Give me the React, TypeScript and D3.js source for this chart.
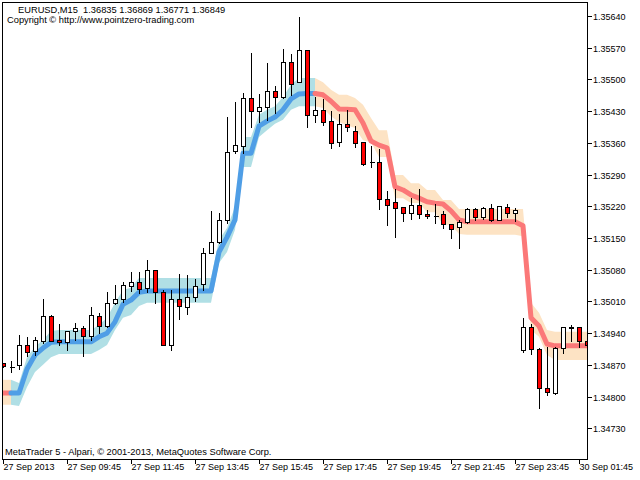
import React, { useRef, useEffect } from 'react';
import * as d3 from 'd3';

// x axis labels, one every 8 bars (2 hours of M15)
const timeLabels = [
  '27 Sep 2013', '27 Sep 09:45', '27 Sep 11:45', '27 Sep 13:45', '27 Sep 15:45',
  '27 Sep 17:45', '27 Sep 19:45', '27 Sep 21:45', '27 Sep 23:45', '30 Sep 01:45',
];

const priceTicks = [
  1.3564, 1.3557, 1.355, 1.3543, 1.3536, 1.3529, 1.3522,
  1.3515, 1.3508, 1.3501, 1.3494, 1.3487, 1.348, 1.3473,
];

const opens = [
  1.34874, 1.34866, 1.34869, 1.34913, 1.34901, 1.34922, 1.34977, 1.34924, 1.34920, 1.34944,
  1.34951, 1.34933, 1.34977, 1.34955, 1.35006, 1.35015, 1.35043, 1.35052, 1.35039, 1.35079,
  1.35030, 1.34913, 1.35015, 1.34997, 1.35019, 1.35048, 1.35116, 1.35141, 1.35189, 1.35341,
  1.35352, 1.35458, 1.35430, 1.35440, 1.35474, 1.35461, 1.35539, 1.35495, 1.35564, 1.35421,
  1.35433, 1.35408, 1.35363, 1.35401, 1.35386, 1.35361, 1.35318, 1.35318, 1.35235, 1.35229,
  1.35218, 1.35205, 1.35222, 1.35202, 1.35199, 1.35202, 1.35180, 1.35174, 1.35185, 1.35213,
  1.35196, 1.35216, 1.35189, 1.35218, 1.35205, 1.34903, 1.34953, 1.34904, 1.34818, 1.34807,
  1.34907, 1.34952, 1.34953, 1.34922,
];
const highs = [
  1.34876, 1.34881, 1.34938, 1.34934, 1.34934, 1.35017, 1.34982, 1.34962, 1.34944, 1.34965,
  1.34957, 1.35000, 1.34986, 1.35034, 1.35048, 1.35055, 1.35077, 1.35077, 1.35104, 1.35079,
  1.35038, 1.35037, 1.35072, 1.35070, 1.35061, 1.35130, 1.35212, 1.35207, 1.35419, 1.35453,
  1.35473, 1.35560, 1.35469, 1.35539, 1.35487, 1.35569, 1.35559, 1.35640, 1.35567, 1.35463,
  1.35458, 1.35433, 1.35425, 1.35435, 1.35399, 1.35361, 1.35355, 1.35348, 1.35257, 1.35260,
  1.35221, 1.35240, 1.35260, 1.35213, 1.35227, 1.35211, 1.35180, 1.35191, 1.35218, 1.35218,
  1.35220, 1.35227, 1.35222, 1.35227, 1.35218, 1.34975, 1.34963, 1.34909, 1.34912, 1.34912,
  1.34953, 1.34960, 1.34953, 1.34949,
];
const lows = [
  1.34865, 1.34855, 1.34860, 1.34890, 1.34892, 1.34919, 1.34923, 1.34913, 1.34902, 1.34924,
  1.34890, 1.34924, 1.34940, 1.34953, 1.35004, 1.35009, 1.35032, 1.35028, 1.35030, 1.35007,
  1.34913, 1.34902, 1.34971, 1.34982, 1.35010, 1.35035, 1.35116, 1.35138, 1.35183, 1.35337,
  1.35337, 1.35396, 1.35407, 1.35410, 1.35427, 1.35458, 1.35466, 1.35495, 1.35394, 1.35407,
  1.35399, 1.35348, 1.35353, 1.35387, 1.35350, 1.35311, 1.35307, 1.35214, 1.35178, 1.35153,
  1.35188, 1.35191, 1.35194, 1.35194, 1.35183, 1.35171, 1.35151, 1.35129, 1.35183, 1.35189,
  1.35191, 1.35187, 1.35189, 1.35196, 1.35187, 1.34899, 1.34894, 1.34774, 1.34804, 1.34806,
  1.34897, 1.34923, 1.34909, 1.34888,
];
const closes = [
  1.34868, 1.34866, 1.34913, 1.34899, 1.34924, 1.34977, 1.34923, 1.34920, 1.34944, 1.34951,
  1.34933, 1.34979, 1.34955, 1.35006, 1.35015, 1.35046, 1.35052, 1.35037, 1.35079, 1.35030,
  1.34913, 1.35015, 1.35001, 1.35019, 1.35043, 1.35116, 1.35141, 1.35189, 1.35339, 1.35355,
  1.35458, 1.35430, 1.35440, 1.35474, 1.35461, 1.35539, 1.35491, 1.35564, 1.35421, 1.35433,
  1.35405, 1.35360, 1.35401, 1.35394, 1.35360, 1.35313, 1.35318, 1.35235, 1.35222, 1.35216,
  1.35205, 1.35222, 1.35202, 1.35198, 1.35199, 1.35180, 1.35169, 1.35185, 1.35213, 1.35196,
  1.35216, 1.35189, 1.35220, 1.35205, 1.35211, 1.34953, 1.34904, 1.34818, 1.34810, 1.34907,
  1.34953, 1.34953, 1.34922, 1.34913,
];

// indicator line and its band
const lineValues = [
  1.34808, 1.34808, 1.34808, 1.34861, 1.34892, 1.34907, 1.34920, 1.34921, 1.34921, 1.34921,
  1.34921, 1.34921, 1.34932, 1.34940, 1.34965, 1.35004, 1.35013, 1.35030, 1.35033, 1.35033,
  1.35033, 1.35033, 1.35033, 1.35033, 1.35033, 1.35033, 1.35033, 1.35119, 1.35152, 1.35190,
  1.35337, 1.35337, 1.35397, 1.35408, 1.35417, 1.35433, 1.35457, 1.35468, 1.35469, 1.35469,
  1.35466, 1.35452, 1.35435, 1.35434, 1.35433, 1.35404, 1.35364, 1.35355, 1.35349, 1.35263,
  1.35256, 1.35245, 1.35238, 1.35230, 1.35227, 1.35225, 1.35210, 1.35190, 1.35186, 1.35186,
  1.35186, 1.35186, 1.35186, 1.35186, 1.35186, 1.35177, 1.34974, 1.34956, 1.34916, 1.34912,
  1.34912, 1.34912, 1.34912, 1.34912,
];
const bandUpper = [
  1.34837, 1.34837, 1.34830, 1.34887, 1.34910, 1.34925, 1.34945, 1.34947, 1.34947, 1.34947,
  1.34947, 1.34947, 1.34958, 1.34974, 1.35007, 1.35035, 1.35040, 1.35062, 1.35062, 1.35062,
  1.35062, 1.35062, 1.35062, 1.35062, 1.35062, 1.35062, 1.35062, 1.35146, 1.35172, 1.35219,
  1.35373, 1.35373, 1.35422, 1.35433, 1.35441, 1.35461, 1.35488, 1.35503, 1.35503, 1.35503,
  1.35494, 1.35477, 1.35466, 1.35466, 1.35459, 1.35444, 1.35415, 1.35388, 1.35388, 1.35289,
  1.35289, 1.35271, 1.35271, 1.35256, 1.35256, 1.35234, 1.35234, 1.35214, 1.35214, 1.35214,
  1.35214, 1.35214, 1.35214, 1.35214, 1.35214, 1.35214, 1.35007, 1.34985, 1.34947, 1.34943,
  1.34943, 1.34943, 1.34943, 1.34943,
];
const bandLower = [
  1.34782, 1.34782, 1.34779, 1.34821, 1.34854, 1.34870, 1.34887, 1.34894, 1.34894, 1.34894,
  1.34894, 1.34894, 1.34903, 1.34914, 1.34947, 1.34974, 1.34980, 1.35000, 1.35007, 1.35007,
  1.35007, 1.35007, 1.35007, 1.35007, 1.35007, 1.35007, 1.35007, 1.35095, 1.35119, 1.35168,
  1.35307, 1.35307, 1.35373, 1.35388, 1.35402, 1.35411, 1.35433, 1.35441, 1.35441, 1.35441,
  1.35437, 1.35419, 1.35406, 1.35399, 1.35393, 1.35366, 1.35362, 1.35329, 1.35329, 1.35238,
  1.35238, 1.35227, 1.35227, 1.35207, 1.35207, 1.35179, 1.35179, 1.35159, 1.35157, 1.35157,
  1.35157, 1.35157, 1.35157, 1.35157, 1.35157, 1.35154, 1.34947, 1.34932, 1.34892, 1.34881,
  1.34881, 1.34881, 1.34881, 1.34881,
];
// 1 = up (blue), -1 = down (red); the segment ending at bar i takes trend[i]
const trend = [
  -1, -1, 1, 1, 1, 1, 1, 1, 1, 1,
  1, 1, 1, 1, 1, 1, 1, 1, 1, 1,
  1, 1, 1, 1, 1, 1, 1, 1, 1, 1,
  1, 1, 1, 1, 1, 1, 1, 1, 1, 1,
  -1, -1, -1, -1, -1, -1, -1, -1, -1, -1,
  -1, -1, -1, -1, -1, -1, -1, -1, -1, -1,
  -1, -1, -1, -1, -1, -1, -1, -1, -1, -1,
  -1, -1, -1, -1,
];

const FONT = '"Liberation Sans", Arial, sans-serif';

const App: React.FC = () => {
  const svgRef = useRef<SVGSVGElement>(null);

  useEffect(() => {
    if (!svgRef.current) return;
    const svg = d3.select(svgRef.current);
    svg.selectAll('*').remove();

    const plot = { left: 2, top: 2, right: 587, bottom: 459 };
    const n = opens.length;

    const x = d3.scaleLinear().domain([0, n - 1]).range([3, 587]);
    const y = d3.scaleLinear().domain([1.3473, 1.3564]).range([428.3, 16]);
    const py = (v: number) => Math.round(y(v)) + 0.5;

    svg.append('rect').attr('width', 640).attr('height', 480).attr('fill', '#fff');

    svg.append('defs').append('clipPath').attr('id', 'plotClip')
      .append('rect')
      .attr('x', plot.left + 1)
      .attr('y', plot.top + 1)
      .attr('width', plot.right - plot.left - 1)
      .attr('height', plot.bottom - plot.top - 1);

    const g = svg.append('g').attr('clip-path', 'url(#plotClip)');

    // colour runs: [first bar, last bar] of consecutive segments with same trend
    const runs: [number, number][] = [];
    let start = 0;
    for (let i = 1; i < n; i++) {
      if (i === n - 1 || trend[i + 1] !== trend[i]) {
        runs.push([start, i]);
        start = i;
      }
    }

    // band
    const area = d3.area<number>()
      .x(i => x(i))
      .y0(i => y(bandLower[i]))
      .y1(i => y(bandUpper[i]));
    runs.forEach(([a, b]) => {
      g.append('path')
        .attr('d', area(d3.range(a, b + 1)))
        .attr('fill', trend[b] > 0 ? '#b0dfe5' : '#fde3c4');
    });

    // indicator line
    const line = d3.line<number>().x(i => x(i)).y(i => y(lineValues[i]));
    runs.forEach(([a, b]) => {
      g.append('path')
        .attr('d', line(d3.range(a, b + 1)))
        .attr('fill', 'none')
        .attr('stroke', trend[b] > 0 ? '#4f9ee6' : '#fb7878')
        .attr('stroke-width', 5)
        .attr('stroke-linejoin', 'round')
        .attr('stroke-linecap', 'round');
    });

    // candles
    d3.range(n).forEach(i => {
      const cx = x(i) + 0.5;
      const o = opens[i];
      const c = closes[i];
      g.append('line')
        .attr('x1', cx).attr('x2', cx)
        .attr('y1', py(highs[i])).attr('y2', py(lows[i]))
        .attr('stroke', '#000')
        .attr('shape-rendering', 'crispEdges');
      const top = py(Math.max(o, c));
      const bot = py(Math.min(o, c));
      if (bot - top < 1) {
        g.append('line')
          .attr('x1', cx - 2).attr('x2', cx + 3)
          .attr('y1', top).attr('y2', top)
          .attr('stroke', '#000')
          .attr('shape-rendering', 'crispEdges');
      } else {
        g.append('rect')
          .attr('x', cx - 2)
          .attr('y', top)
          .attr('width', 4)
          .attr('height', bot - top)
          .attr('fill', c < o ? '#ff0000' : '#ffffff')
          .attr('stroke', '#000')
          .attr('shape-rendering', 'crispEdges');
      }
    });

    // frame
    svg.append('rect')
      .attr('x', plot.left + 0.5).attr('y', plot.top + 0.5)
      .attr('width', plot.right - plot.left).attr('height', plot.bottom - plot.top)
      .attr('fill', 'none').attr('stroke', '#000')
      .attr('shape-rendering', 'crispEdges');

    // price axis
    priceTicks.forEach(p => {
      const ty = py(p);
      svg.append('line')
        .attr('x1', plot.right + 0.5).attr('x2', plot.right + 4.5)
        .attr('y1', ty).attr('y2', ty)
        .attr('stroke', '#000').attr('shape-rendering', 'crispEdges');
      svg.append('text')
        .attr('x', plot.right + 6)
        .attr('y', ty + 3.5)
        .attr('font-family', FONT)
        .attr('font-size', 9)
        .text(p.toFixed(5));
    });

    // time axis
    timeLabels.forEach((label, k) => {
      const tx = x(k * 8) + 0.5;
      svg.append('line')
        .attr('x1', tx).attr('x2', tx)
        .attr('y1', plot.bottom + 0.5).attr('y2', plot.bottom + 4.5)
        .attr('stroke', '#000').attr('shape-rendering', 'crispEdges');
      svg.append('text')
        .attr('x', tx)
        .attr('y', 470)
        .attr('font-family', FONT)
        .attr('font-size', 9)
        .text(label);
    });

    // captions
    const captions = [
      { text: 'EURUSD,M15  1.36835 1.36869 1.36771 1.36849', x: 18, y: 12.5 },
      { text: 'Copyright \u00a9 http://www.pointzero-trading.com', x: 7, y: 23 },
      { text: 'MetaTrader 5 - Alpari, \u00a9 2001-2013, MetaQuotes Software Corp.', x: 5, y: 455 },
    ];
    captions.forEach(d => {
      svg.append('text')
        .attr('x', d.x)
        .attr('y', d.y)
        .attr('font-family', FONT)
        .attr('font-size', 9.3)
        .style('white-space', 'pre')
        .text(d.text);
    });
  }, []);

  return (
    <svg
      ref={svgRef}
      width={640}
      height={480}
      style={{ position: 'absolute', left: 0, top: 0, display: 'block' }}
    />
  );
};

export default App;
